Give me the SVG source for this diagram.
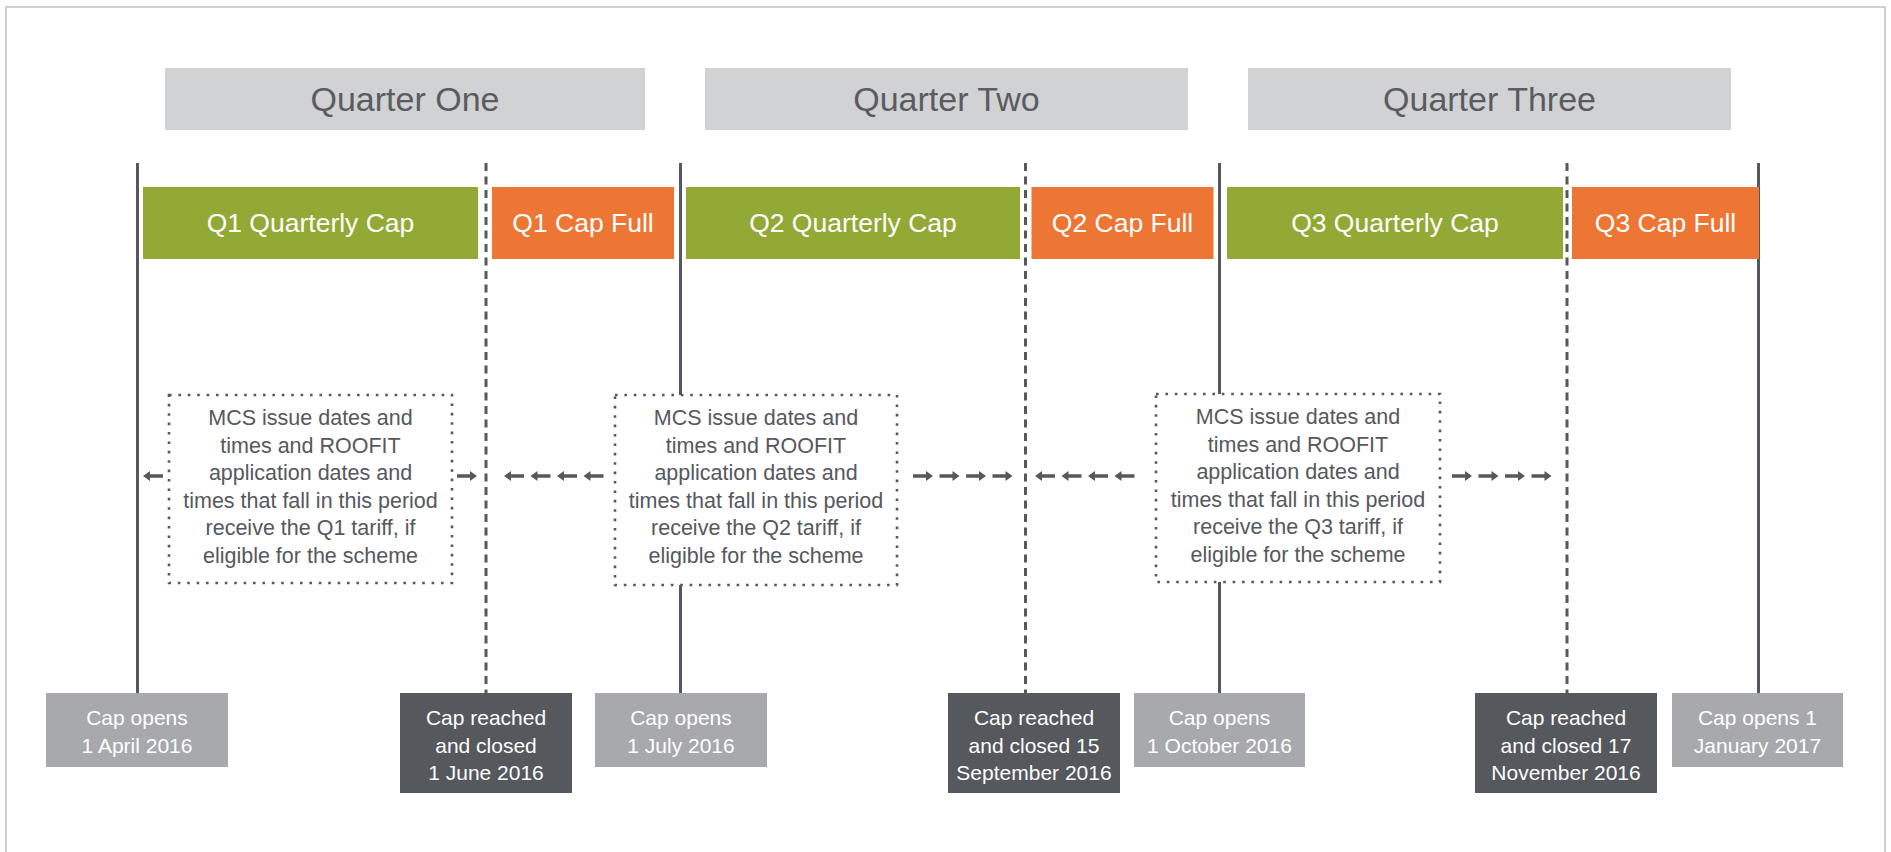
<svg xmlns="http://www.w3.org/2000/svg" width="1891" height="852" viewBox="0 0 1891 852">
<style>
  .frame{fill:none;stroke:#cfd0d2;stroke-width:2}
  .hdr{fill:#d1d2d4}
  .hdrt{font-family:"Liberation Sans",Arial,sans-serif;font-size:34px;fill:#5a5c60;text-anchor:middle}
  .grn{fill:#93a935}
  .org{fill:#ee7634}
  .bart{font-family:"Liberation Sans",Arial,sans-serif;font-size:26.5px;fill:#ffffff;text-anchor:middle}
  .solid{stroke:#55585c;stroke-width:3;fill:none}
  .dash{stroke:#55585c;stroke-width:3;fill:none;stroke-dasharray:8 5.5}
  .dot{fill:#ffffff;stroke:#55585c;stroke-width:2.6;stroke-dasharray:2.6 6.8}
  .note{font-family:"Liberation Sans",Arial,sans-serif;font-size:21.5px;fill:#55585c;text-anchor:middle}
  .open{fill:#a7a9ac}
  .closed{fill:#55585c}
  .datet{font-family:"Liberation Sans",Arial,sans-serif;font-size:21px;fill:#ffffff;text-anchor:middle}
  .arr{fill:#55585c}
</style>
<defs>
  <path id="ar" d="M0,-1.8 H13 V-5 L20,0 L13,5 V1.8 H0 Z"/>
</defs>
<rect width="1891" height="852" fill="#ffffff"/>
<rect class="frame" x="6" y="7" width="1879" height="900"/>

<g id="connectors">
  <line class="solid" x1="137.5" y1="163" x2="137.5" y2="693"/>
  <line class="dash" x1="486" y1="163" x2="486" y2="693"/>
  <line class="solid" x1="680.5" y1="163" x2="680.5" y2="693"/>
  <line class="dash" x1="1025.5" y1="163" x2="1025.5" y2="693"/>
  <line class="solid" x1="1219.5" y1="163" x2="1219.5" y2="693"/>
  <line class="dash" x1="1567" y1="163" x2="1567" y2="693"/>
  <line class="solid" x1="1758.5" y1="163" x2="1758.5" y2="693"/>
  <g class="arr">
    <use href="#ar" transform="translate(163,476) scale(-1,1)"/>
    <use href="#ar" transform="translate(457,476)"/>
    <use href="#ar" transform="translate(524,476) scale(-1,1)"/>
    <use href="#ar" transform="translate(550.5,476) scale(-1,1)"/>
    <use href="#ar" transform="translate(577,476) scale(-1,1)"/>
    <use href="#ar" transform="translate(603.5,476) scale(-1,1)"/>
    <use href="#ar" transform="translate(913,476)"/>
    <use href="#ar" transform="translate(939.5,476)"/>
    <use href="#ar" transform="translate(966,476)"/>
    <use href="#ar" transform="translate(992.5,476)"/>
    <use href="#ar" transform="translate(1055,476) scale(-1,1)"/>
    <use href="#ar" transform="translate(1081.5,476) scale(-1,1)"/>
    <use href="#ar" transform="translate(1108,476) scale(-1,1)"/>
    <use href="#ar" transform="translate(1134.5,476) scale(-1,1)"/>
    <use href="#ar" transform="translate(1452,476)"/>
    <use href="#ar" transform="translate(1478.5,476)"/>
    <use href="#ar" transform="translate(1505,476)"/>
    <use href="#ar" transform="translate(1531.5,476)"/>
  </g>
</g>

<g id="quarter-one">
  <rect class="hdr" x="165" y="68" width="480" height="62"/>
  <text class="hdrt" x="405" y="111">Quarter One</text>
</g>
<g id="quarter-two">
  <rect class="hdr" x="705" y="68" width="483" height="62"/>
  <text class="hdrt" x="946.5" y="111">Quarter Two</text>
</g>
<g id="quarter-three">
  <rect class="hdr" x="1248" y="68" width="483" height="62"/>
  <text class="hdrt" x="1489.5" y="111">Quarter Three</text>
</g>

<g id="q1-cap">
  <rect class="grn" x="143" y="187" width="335" height="72"/>
  <text class="bart" x="310.5" y="232">Q1 Quarterly Cap</text>
</g>
<g id="q1-full">
  <rect class="org" x="492" y="187" width="182" height="72"/>
  <text class="bart" x="583" y="232">Q1 Cap Full</text>
</g>
<g id="q2-cap">
  <rect class="grn" x="686" y="187" width="334" height="72"/>
  <text class="bart" x="853" y="232">Q2 Quarterly Cap</text>
</g>
<g id="q2-full">
  <rect class="org" x="1031.5" y="187" width="182" height="72"/>
  <text class="bart" x="1122.5" y="232">Q2 Cap Full</text>
</g>
<g id="q3-cap">
  <rect class="grn" x="1227" y="187" width="336" height="72"/>
  <text class="bart" x="1395" y="232">Q3 Quarterly Cap</text>
</g>
<g id="q3-full">
  <rect class="org" x="1572" y="187" width="187" height="72"/>
  <text class="bart" x="1665.5" y="232">Q3 Cap Full</text>
</g>

<g id="q1-note">
  <rect class="dot" x="169" y="395" width="283" height="188"/>
  <text class="note" x="310.5" y="425">MCS issue dates and</text>
  <text class="note" x="310.5" y="452.5">times and ROOFIT</text>
  <text class="note" x="310.5" y="480">application dates and</text>
  <text class="note" x="310.5" y="507.5">times that fall in this period</text>
  <text class="note" x="310.5" y="535">receive the Q1 tariff, if</text>
  <text class="note" x="310.5" y="562.5">eligible for the scheme</text>
</g>
<g id="q2-note">
  <rect class="dot" x="615" y="395" width="282" height="190"/>
  <text class="note" x="756" y="425">MCS issue dates and</text>
  <text class="note" x="756" y="452.5">times and ROOFIT</text>
  <text class="note" x="756" y="480">application dates and</text>
  <text class="note" x="756" y="507.5">times that fall in this period</text>
  <text class="note" x="756" y="535">receive the Q2 tariff, if</text>
  <text class="note" x="756" y="562.5">eligible for the scheme</text>
</g>
<g id="q3-note">
  <rect class="dot" x="1156" y="394" width="284" height="188"/>
  <text class="note" x="1298" y="424">MCS issue dates and</text>
  <text class="note" x="1298" y="451.5">times and ROOFIT</text>
  <text class="note" x="1298" y="479">application dates and</text>
  <text class="note" x="1298" y="506.5">times that fall in this period</text>
  <text class="note" x="1298" y="534">receive the Q3 tariff, if</text>
  <text class="note" x="1298" y="561.5">eligible for the scheme</text>
</g>

<g id="open-apr">
  <rect class="open" x="46" y="693" width="182" height="74"/>
  <text class="datet" x="137" y="725">Cap opens</text>
  <text class="datet" x="137" y="752.5">1 April 2016</text>
</g>
<g id="closed-jun">
  <rect class="closed" x="400" y="693" width="172" height="100"/>
  <text class="datet" x="486" y="725">Cap reached</text>
  <text class="datet" x="486" y="752.5">and closed</text>
  <text class="datet" x="486" y="780">1 June 2016</text>
</g>
<g id="open-jul">
  <rect class="open" x="595" y="693" width="172" height="74"/>
  <text class="datet" x="681" y="725">Cap opens</text>
  <text class="datet" x="681" y="752.5">1 July 2016</text>
</g>
<g id="closed-sep">
  <rect class="closed" x="948" y="693" width="172" height="100"/>
  <text class="datet" x="1034" y="725">Cap reached</text>
  <text class="datet" x="1034" y="752.5">and closed 15</text>
  <text class="datet" x="1034" y="780">September 2016</text>
</g>
<g id="open-oct">
  <rect class="open" x="1134" y="693" width="171" height="74"/>
  <text class="datet" x="1219.5" y="725">Cap opens</text>
  <text class="datet" x="1219.5" y="752.5">1 October 2016</text>
</g>
<g id="closed-nov">
  <rect class="closed" x="1475" y="693" width="182" height="100"/>
  <text class="datet" x="1566" y="725">Cap reached</text>
  <text class="datet" x="1566" y="752.5">and closed 17</text>
  <text class="datet" x="1566" y="780">November 2016</text>
</g>
<g id="open-jan">
  <rect class="open" x="1672" y="693" width="171" height="74"/>
  <text class="datet" x="1757.5" y="725">Cap opens 1</text>
  <text class="datet" x="1757.5" y="752.5">January 2017</text>
</g>
</svg>
